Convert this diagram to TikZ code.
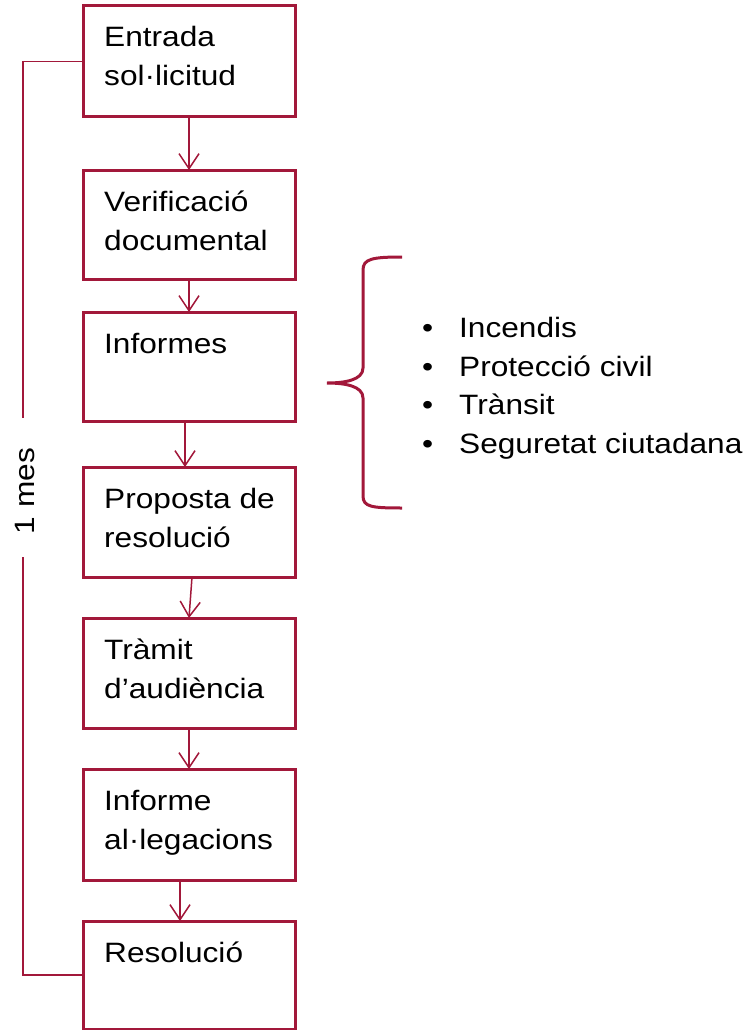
\documentclass[tikz,border=0pt]{standalone}
\usepackage{fontspec}
\setmainfont{Liberation Sans}[FakeStretch=1.13]
\usetikzlibrary{arrows.meta}
\definecolor{granat}{RGB}{162,24,58}

\begin{document}
\begin{tikzpicture}[x=1pt,y=-1pt]
    \useasboundingbox (0,0) rectangle (747,1030);
    \begin{scope}[every node/.style={rectangle,draw=granat,line width=3pt,minimum width=212pt,inner sep=0pt,outer sep=0pt}]
        \node[minimum height=111pt] (E) at (189,61.5) {};
        \node[minimum height=109pt] (V) at (189,224.5) {};
        \node[minimum height=109pt] (I) at (189,366.5) {};
        \node[minimum height=110pt] (P) at (189,522) {};
        \node[minimum height=110pt] (T) at (189,673) {};
        \node[minimum height=111pt] (A) at (189,824.5) {};
        \node[minimum height=108pt] (R) at (189,975) {};
    \end{scope}
    % base of a two-line node is its last line
    \begin{scope}[every node/.style={anchor=base west,align=left,inner sep=0pt,font=\fontsize{28}{39}\selectfont}]
        \node (tE) at ([xshift=21pt,yshift=-80pt]E.north west) {Entrada\\sol·licitud};
        \node (tV) at ([xshift=21pt,yshift=-80pt]V.north west) {Verificació\\documental};
        \node (tI) at ([xshift=21pt,yshift=-41pt]I.north west) {Informes};
        \node (tP) at ([xshift=21pt,yshift=-80pt]P.north west) {Proposta de\\resolució};
        \node (tT) at ([xshift=21pt,yshift=-80pt]T.north west) {Tràmit\\d’audiència};
        \node (tA) at ([xshift=21pt,yshift=-80pt]A.north west) {Informe\\al·legacions};
        \node (tR) at ([xshift=21pt,yshift=-41pt]R.north west) {Resolució};
    \end{scope}
    \begin{scope}[every edge/.style={draw=granat,line width=1.5pt,-{Straight Barb[length=15pt,width=20pt]}}]
        \draw (E.south) edge (V.north);
        \draw (V.south) edge (I.north);
        \draw ([xshift=-4pt]I.south) edge ([xshift=-4pt]P.north);
        \draw ([xshift=3pt]P.south) edge (T.north);
        \draw (T.south) edge (A.north);
        \draw ([xshift=-9pt]A.south) edge ([xshift=-9pt]R.north);
    \end{scope}
    % termini
    \node[rotate=90,inner sep=0pt,font=\fontsize{28}{34}\selectfont] (mes) at (25,491) {1 mes};
    \coordinate (dalt) at (23,418);
    \coordinate (baix) at (23,557);
    \draw[granat,line width=1.5pt] (E.west) -| (dalt);
    \draw[granat,line width=1.5pt] (baix) |- (R.west);
    % clau dels informes
    \draw[granat,line width=3pt] (402,257) .. controls (372,257) and (363,259) .. (363,270) -- (363,368)
        .. controls (363,380) and (345,383) .. (327,383) .. controls (345,383) and (363,386) .. (363,398)
        -- (363,496) .. controls (363,507) and (372,508) .. (402,508);
    \node[anchor=base west,align=left,inner sep=0pt,font=\fontsize{28}{38.5}\selectfont] (llista) at (422,453)
        {\makebox[37pt][l]{•}Incendis\\\makebox[37pt][l]{•}Protecció civil\\\makebox[37pt][l]{•}Trànsit\\\makebox[37pt][l]{•}Seguretat ciutadana};
\end{tikzpicture}
\end{document}
